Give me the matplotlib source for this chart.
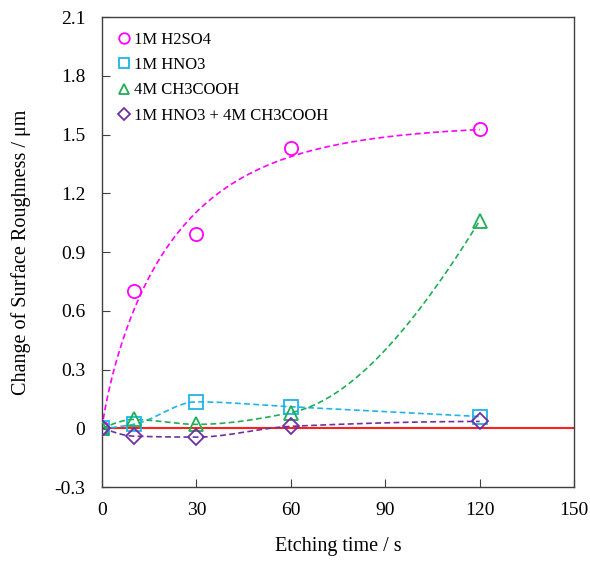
import matplotlib
matplotlib.use("Agg")
import matplotlib.pyplot as plt
import numpy as np

plt.rcParams["font.family"] = ["Liberation Serif", "DejaVu Serif"]

time_s = [0, 10, 30, 60, 120]
h2so4 = [0.0, 0.70, 0.99, 1.43, 1.53]
hno3 = [0.0, 0.02, 0.135, 0.11, 0.06]
ch3cooh = [0.0, 0.045, 0.02, 0.08, 1.06]
mixed = [0.0, -0.04, -0.045, 0.01, 0.035]

series = [
    ("1M H2SO4", h2so4, "#ff00ff", "o"),
    ("1M HNO3", hno3, "#1fb4e8", "s"),
    ("4M CH3COOH", ch3cooh, "#1fae55", "^"),
    ("1M HNO3 + 4M CH3COOH", mixed, "#7030a0", "D"),
]


def saturation_fit(t, y, tt):
    # a * (1 - exp(-(t / tau) ** b)); tau, b by grid, a by least squares
    t = np.asarray(t, float)
    y = np.asarray(y, float)
    best = None
    for b in np.linspace(0.85, 1.2, 15):
        for tau in np.linspace(5, 60, 221):
            basis = 1 - np.exp(-(t / tau) ** b)
            a = basis @ y / (basis @ basis)
            err = np.sum((a * basis - y) ** 2)
            if best is None or err < best[0]:
                best = (err, a, tau, b)
    _, a, tau, b = best
    return a * (1 - np.exp(-(tt / tau) ** b))


def pchip(t, y, tt):
    # monotone cubic hermite smoothing line through the points
    t = np.asarray(t, float)
    y = np.asarray(y, float)
    h = np.diff(t)
    d = np.diff(y) / h
    m = np.zeros_like(y)
    for k in range(1, len(t) - 1):
        if d[k - 1] * d[k] > 0:
            w1 = 2 * h[k] + h[k - 1]
            w2 = h[k] + 2 * h[k - 1]
            m[k] = (w1 + w2) / (w1 / d[k - 1] + w2 / d[k])
    m[0] = ((2 * h[0] + h[1]) * d[0] - h[0] * d[1]) / (h[0] + h[1])
    if np.sign(m[0]) != np.sign(d[0]):
        m[0] = 0
    m[-1] = ((2 * h[-1] + h[-2]) * d[-1] - h[-1] * d[-2]) / (h[-1] + h[-2])
    if np.sign(m[-1]) != np.sign(d[-1]):
        m[-1] = 0
    idx = np.clip(np.searchsorted(t, tt) - 1, 0, len(t) - 2)
    s = (tt - t[idx]) / h[idx]
    h00 = 2 * s**3 - 3 * s**2 + 1
    h10 = s**3 - 2 * s**2 + s
    h01 = -2 * s**3 + 3 * s**2
    h11 = s**3 - s**2
    return (h00 * y[idx] + h10 * h[idx] * m[idx]
            + h01 * y[idx + 1] + h11 * h[idx] * m[idx + 1])


fig = plt.figure(figsize=(5.9, 5.67), dpi=100)
ax = fig.add_axes([0.173, 0.141, 0.8, 0.829])

tt = np.linspace(0, 120, 600)
ax.axhline(0, color="#ff2020", lw=1.5, zorder=1)

for i, (label, vals, color, marker) in enumerate(series):
    if i == 0:
        curve = saturation_fit(time_s, vals, tt)
    else:
        curve = pchip(time_s, vals, tt)
    ax.plot(tt, curve, ls=(0, (3.5, 2)), color=color, lw=1.2, zorder=2)
    ms = 8 if marker == "D" else 9.5
    ax.plot(time_s, vals, ls="none", marker=marker, ms=ms, mfc="none",
            mec=color, mew=1.3, label=label, zorder=3)

ax.set_xlim(0, 150)
ax.set_ylim(-0.3, 2.1)
ax.set_xticks(np.arange(0, 151, 30))
ax.set_yticks(np.arange(-0.3, 2.11, 0.3))
ax.set_yticklabels(["-0.3", "0", "0.3", "0.6", "0.9", "1.2", "1.5", "1.8", "2.1"])
ax.tick_params(direction="in", length=6, labelsize=14, color="#404040")
ax.tick_params(axis="y", pad=12)
ax.tick_params(axis="x", pad=11)
for side in ["top", "right", "bottom", "left"]:
    ax.spines[side].set_color("#404040")
    ax.spines[side].set_linewidth(1.0)

ax.set_xlabel("Etching time / s", fontsize=14.5, labelpad=13)
ax.set_ylabel("Change of Surface Roughness / μm", fontsize=14.5, labelpad=17)

leg = ax.legend(loc="upper left", bbox_to_anchor=(-0.003, 1.0), frameon=False,
                fontsize=12, handletextpad=0.1, labelspacing=0.55,
                handlelength=1.0, markerscale=0.8)

fig.savefig("out.png", dpi=100)
